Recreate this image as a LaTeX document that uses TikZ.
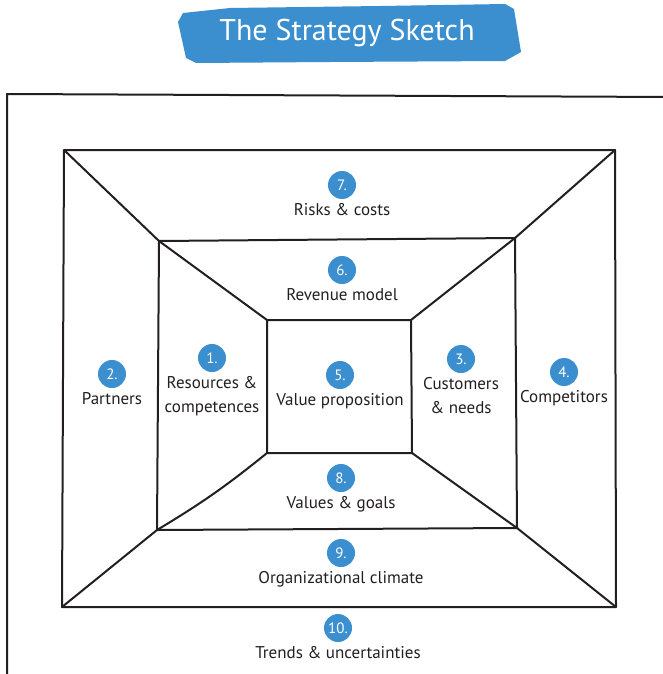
\documentclass[tikz,border=0pt]{standalone}
\usepackage{fontspec}
\setmainfont{PT Sans}
\usepackage{tikz}
\usetikzlibrary{positioning}
\definecolor{brush}{HTML}{3B8FCF}
\definecolor{ink}{HTML}{231F20}
\tikzset{num node/.style={circle,fill=brush,draw=none,minimum size=28pt,inner sep=0pt,text=white,font=\fontsize{15}{15}\selectfont},
  txt node/.style={align=center,inner sep=0pt,text=ink,font=\fontsize{17}{24}\selectfont},
  sketch/.style={draw=ink,line width=2pt,line join=round,line cap=round},}

\begin{document}
\begin{tikzpicture}[x=1pt,y=-1pt]
\useasboundingbox (0,0) rectangle (663,674);

 % title brush
 \fill[brush] (183,13) -- (230,8) -- (380,6) -- (505,4) -- (514,9) -- (521,52)
   -- (505,61) -- (330,62) -- (196,63) -- (186,58) -- (178,22) -- cycle;
 \node[text=white,font=\fontsize{30}{30}\selectfont] (title) at (347,33) {The Strategy Sketch};

 % corners
 \coordinate (ftl) at (7,94);  \coordinate (ftr) at (672,97); \coordinate (fbl) at (7,680);
 \coordinate (o1) at (64,150); \coordinate (o2) at (615,150);
 \coordinate (o3) at (616,607); \coordinate (o4) at (62,607);
 \coordinate (m1) at (159,241); \coordinate (m2) at (515,238);
 \coordinate (m3) at (517,528); \coordinate (m4) at (157,530);
 \coordinate (i1) at (267,320); \coordinate (i2) at (411,320);
 \coordinate (i3) at (412,453); \coordinate (i4) at (267,453);

 \draw[sketch] (fbl) -- (ftl) -- (ftr);
 \draw[sketch] (o1) -- (o2) -- (o3) -- (o4) -- cycle;
 \draw[sketch] (m1) -- (m2) -- (m3) -- (m4) -- cycle;
 \draw[sketch] (i1) -- (i2) -- (i3) -- (i4) -- cycle;
 \draw[sketch] (o1) -- (m1) -- (i1);
 \draw[sketch] (o2) -- (m2) -- (i2);
 \draw[sketch] (o3) -- (m3) -- (i3);
 \draw[sketch] (o4) -- (m4) to[bend right=4] (i4);

 % fields
 \node[num node] (n7) at (342,185) {7.};
 \node[txt node,below=4pt of n7] (t7) {Risks \& costs};
 \node[num node] (n6) at (342,270) {6.};
 \node[txt node,below=4pt of n6] (t6) {Revenue model};
 \node[num node] (n5) at (340,375) {5.};
 \node[txt node,below=4pt of n5] (t5) {Value proposition};
 \node[num node] (n1) at (212,358) {1.};
 \node[txt node,below=4pt of n1] (t1) {Resources \&\\competences};
 \node[num node] (n2) at (112,374) {2.};
 \node[txt node,below=4pt of n2] (t2) {Partners};
 \node[num node] (n3) at (461,359) {3.};
 \node[txt node,below=4pt of n3] (t3) {Customers\\\& needs};
 \node[num node] (n4) at (564,372) {4.};
 \node[txt node,below=4pt of n4] (t4) {Competitors};
 \node[num node] (n8) at (341,478) {8.};
 \node[txt node,below=4pt of n8] (t8) {Values \& goals};
 \node[num node] (n9) at (341,553) {9.};
 \node[txt node,below=4pt of n9] (t9) {Organizational climate};
 \node[num node] (n10) at (338,628) {10.};
 \node[txt node,below=4pt of n10] (t10) {Trends \& uncertainties};
\end{tikzpicture}
\end{document}
